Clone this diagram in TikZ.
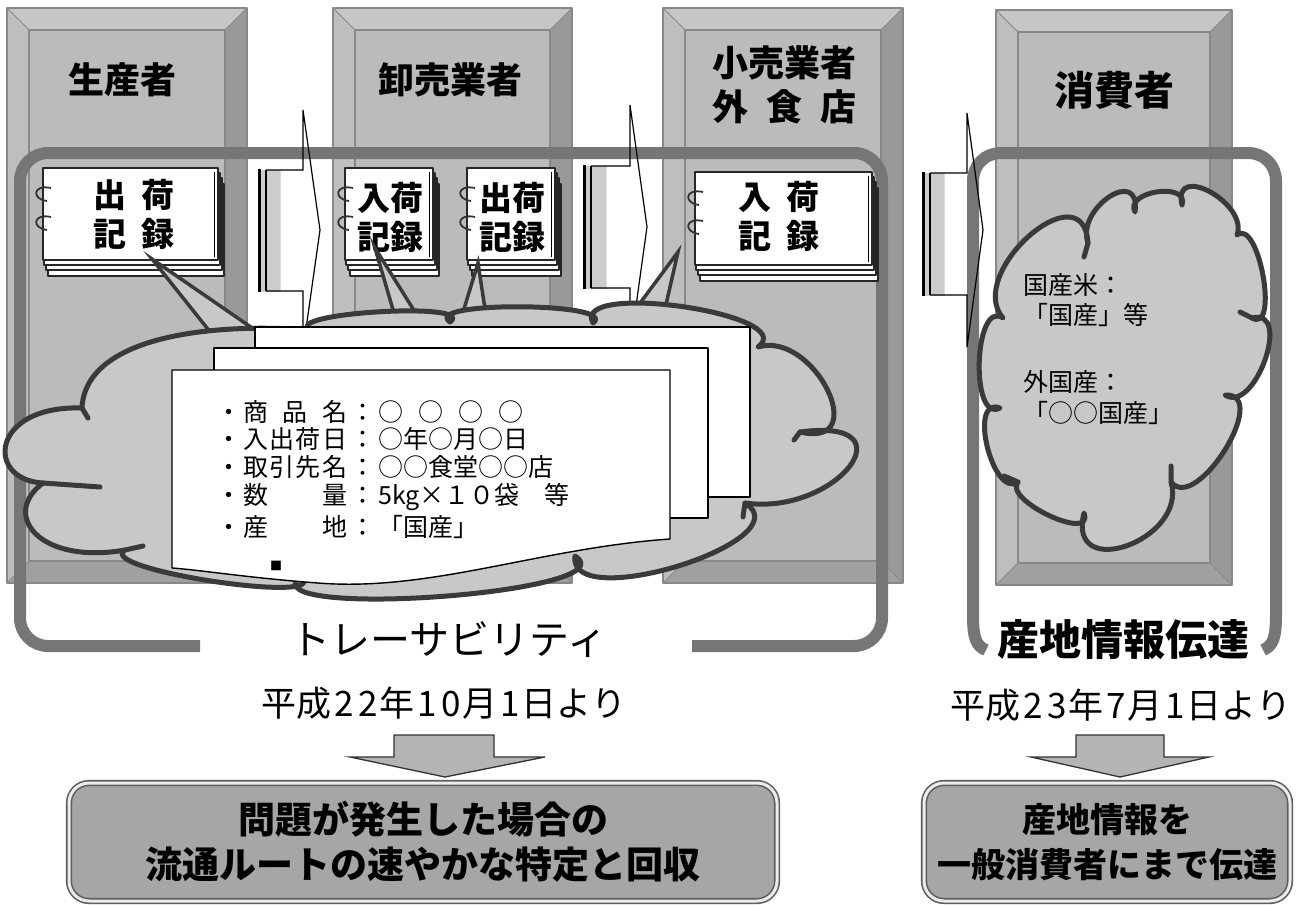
\documentclass[tikz,border=0pt]{standalone}
\usepackage{fontspec}
\setmainfont{Noto Sans CJK JP}
\usetikzlibrary{calc}
\definecolor{bandlight}{HTML}{C6C6C6}
\definecolor{bandleft}{HTML}{BEBEBE}
\definecolor{bandmid}{HTML}{B2B2B2}
\definecolor{banddark}{HTML}{999999}
\definecolor{panelgray}{HTML}{BBBBBB}
\definecolor{edgegray}{HTML}{888888}
\definecolor{rectgray}{HTML}{767676}
\definecolor{cloudfill}{HTML}{C8C8C8}
\definecolor{cloudline}{HTML}{3A3A3A}
\definecolor{boxfill}{HTML}{A6A6A6}
\definecolor{boxedge}{HTML}{5E5E5E}
\definecolor{arrowfill}{HTML}{B4B4B4}
\newcommand\dg[1]{\makebox[24pt]{#1}}
\tikzset{
  bump/.style n args={3}{insert path={.. controls ($0.533*(#1)-0.867*(#2)+1.333*(#3)$) and ($0.533*(#2)-0.867*(#1)+1.333*(#3)$) .. (#2)}},
  rectline/.style={draw=rectgray, line width=12pt, rounded corners=28pt},
  cloudst/.style={fill=cloudfill, draw=cloudline, line width=5pt, line join=round},
  curlst/.style={draw=cloudline, line width=5pt, line cap=round},
  tailst/.style={fill=cloudfill, draw=cloudline, line width=3.5pt, line join=miter},
  sheetst/.style={fill=white, draw=black, line width=1.4pt},
  pagest/.style={fill=white, draw=black!85, line width=1.2pt},
  titlest/.style={font=\fontsize{36}{44}\selectfont\bfseries, inner sep=0pt, align=center},
  booktext/.style={font=\fontsize{33}{39}\selectfont\bfseries, inner sep=0pt, align=center},
  rowtext/.style={font=\fontsize{25}{28}\selectfont, inner sep=0pt, anchor=west},
  cloudtext/.style={font=\fontsize{25}{30}\selectfont, inner sep=0pt, anchor=west},
  bottombox/.style={draw=boxedge, line width=1.6pt, double=white!85!gray, double distance=3pt, fill=boxfill, rounded corners=20pt, inner sep=0pt, align=center},
  downarrow/.style={draw=black!80, line width=1.3pt, fill=arrowfill, line join=miter}
}
\begin{document}
\begin{tikzpicture}[x=1pt,y=-1pt, line join=round]
\useasboundingbox (0,0) rectangle (1296,907);
\fill[white] (0,0) rectangle (1296,907);

% ---------- beveled columns ----------
\foreach \xa/\ya/\xb/\yb in {7/8/247/583, 333/8/572/583, 663/8/903/583, 996/10/1232/585}{
  \fill[bandmid] (\xa,\ya) rectangle (\xb,\yb);
  \fill[bandlight] (\xa,\ya) -- (\xb,\ya) -- ({\xb-22},{\ya+22}) -- ({\xa+22},{\ya+22}) -- cycle;
  \fill[bandleft] (\xa,\ya) -- ({\xa+22},{\ya+22}) -- ({\xa+22},{\yb-22}) -- (\xa,\yb) -- cycle;
  \fill[banddark] (\xb,\ya) -- (\xb,\yb) -- ({\xb-22},{\yb-22}) -- ({\xb-22},{\ya+22}) -- cycle;
  \fill[bandmid!90!black] (\xa,\yb) -- (\xb,\yb) -- ({\xb-22},{\yb-22}) -- ({\xa+22},{\yb-22}) -- cycle;
  \filldraw[fill=panelgray, draw=edgegray, line width=1.6pt] ({\xa+22},{\ya+22}) rectangle ({\xb-22},{\yb-22});
  \draw[edgegray, line width=1pt] (\xa,\ya) -- ({\xa+22},{\ya+22}) (\xb,\ya) -- ({\xb-22},{\ya+22})
        (\xa,\yb) -- ({\xa+22},{\yb-22}) (\xb,\yb) -- ({\xb-22},{\yb-22});
  \draw[edgegray, line width=1.6pt] (\xa,\ya) rectangle (\xb,\yb);
}

% ---------- column titles ----------
\node[titlest] (t1) at (122,80) {生産者};
\node[titlest] (t2) at (450,80) {卸売業者};
\node[titlest] (t3) at (784,85) {小売業者\\外\hspace{18pt}食\hspace{18pt}店};
\node[titlest, font=\fontsize{40}{44}\selectfont\bfseries] (t4) at (1114,90) {消費者};

% ---------- big frames ----------
\draw[rectline] (200,646) -- (20,646) -- (20,153) -- (882,153) -- (882,646) -- (692,646);
\draw[rectline, rounded corners=0pt] (986,650) .. controls (976,646) and (973,638) .. (973,615) -- (973,181)
   .. controls (973,165) and (985,153) .. (1001,153) -- (1248,153) .. controls (1264,153) and (1276,165) .. (1276,181)
   -- (1276,615) .. controls (1276,638) and (1273,646) .. (1263,650);

% ---------- block arrows between columns ----------
\foreach \xo/\yt/\yb/\xh/\ht/\xt/\yc/\hb in {258/170/291/303/110/320/230/350, 583/166/288/630/105/647/227/349, 922/173/295/967/113/983/230/347}{
  \shade[left color=gray!35, middle color=white, right color=gray!40] (\xo,\yt) rectangle (\xh,\yb);
  \draw[black, line width=1.2pt, line join=miter] ({\xo+8},\yt) -- (\xh,\yt) -- (\xh,\ht) -- (\xt,\yc) -- (\xh,\hb) -- (\xh,\yb) -- ({\xo+8},\yb);
  \draw[black, line width=3.5pt] ({\xo+1.5},{\yt-1}) -- ({\xo+1.5},{\yb+1});
  \draw[black, line width=1.2pt] ({\xo+8},\yt) -- ({\xo+8},\yb);
}

% ---------- record books ----------
\foreach \xa/\ya/\xb/\yb in {43/168/218/260, 345/168/433/260, 467/168/555/260, 695/172/872/265}{
  \filldraw[pagest] ({\xa+5},{\ya+16}) rectangle ({\xb+6},{\yb+16});
  \filldraw[pagest] ({\xa+3},{\ya+10}) rectangle ({\xb+4},{\yb+10});
  \filldraw[pagest] ({\xa+1},{\ya+5}) rectangle ({\xb+2},{\yb+5});
  \filldraw[pagest, line width=1.4pt] (\xa,\ya) rectangle (\xb,\yb);
  \draw[black, line width=1pt] ({\xb-4},{\ya+4}) -- ({\xb-4},{\yb-3});
  \foreach \r in {26,55}{
    \draw[black!80, line width=1.8pt] ({\xa+8},{\ya+\r-6}) .. controls ({\xa-10},{\ya+\r-10}) and ({\xa-12},{\ya+\r+5}) .. ({\xa+4},{\ya+\r+7});
  }
}
\node[booktext] (b1) at (134,214) {出\hspace{15pt}荷\\記\hspace{15pt}録};
\node[booktext] (b2) at (390,217) {入荷\\記録};
\node[booktext] (b3) at (512,217) {出荷\\記録};
\node[booktext] (b4) at (779,216) {入\hspace{15pt}荷\\記\hspace{15pt}録};

% ---------- callout tails ----------
\filldraw[tailst] (215,338) -- (152,259) -- (258,332);
\filldraw[tailst] (396,320) -- (375,248) -- (420,320);
\filldraw[tailst] (460,322) -- (478,263) -- (487,322);
\filldraw[tailst] (626,322) -- (678,252) -- (662,322);

% ---------- left cloud ----------
\coordinate (L1) at (43,483);   \coordinate (L2) at (82,408);   \coordinate (L3) at (310,330);
\coordinate (L4) at (450,322);  \coordinate (L5) at (593,323);  \coordinate (L6) at (758,347);
\coordinate (L7) at (800,432);  \coordinate (L8) at (745,503);  \coordinate (L9) at (575,556);
\coordinate (L10) at (300,576); \coordinate (L11) at (125,550);
\coordinate (P3) at (380,312);
\coordinate (P4) at (521,307);  \coordinate (P5) at (684,307);  \coordinate (P6) at (828,390);
\coordinate (P7) at (850,467);  \coordinate (P8) at (680,566);  \coordinate (P9) at (440,597);
\coordinate (P10) at (215,582);
\filldraw[cloudst] (L3) [bump={L3}{L4}{P3}] [bump={L4}{L5}{P4}]
  [bump={L5}{L6}{P5}] [bump={L6}{L7}{P6}] [bump={L7}{L8}{P7}] [bump={L8}{L9}{P8}]
  [bump={L9}{L10}{P9}] [bump={L10}{L11}{P10}]
  .. controls (40,565) and (0,515) .. (L1)
  .. controls (-15,480) and (-10,405) .. (L2)
  .. controls (85,340) and (200,322) .. (L3) -- cycle;
\draw[curlst] (L1) -- (100,487) (L2) -- (88,418) (L11) -- (143,546) (L7) -- ++(-6,8) (L8) -- ++(-2,14);

% ---------- consumer cloud ----------
\coordinate (K1) at (1003,318);  \coordinate (K2) at (1088,243);  \coordinate (K3) at (1135,212);
\coordinate (K4) at (1182,205);  \coordinate (K5) at (1237,235);  \coordinate (K6) at (1252,318);
\coordinate (K7) at (1225,395);  \coordinate (K8) at (1171,482);  \coordinate (K9) at (1084,513);
\coordinate (K10) at (1018,482); \coordinate (K11) at (1000,408);
\coordinate (Q1) at (1030,236);  \coordinate (Q2) at (1110,197);  \coordinate (Q3) at (1158,192);
\coordinate (Q4) at (1211,192);  \coordinate (Q5) at (1264,276);  \coordinate (Q6) at (1266,360);
\coordinate (Q7) at (1226,450);  \coordinate (Q8) at (1128,546);  \coordinate (Q9) at (1050,516);
\coordinate (Q10) at (988,447);  \coordinate (Q11) at (980,362);
\filldraw[cloudst] (K1) [bump={K1}{K2}{Q1}] [bump={K2}{K3}{Q2}] [bump={K3}{K4}{Q3}] [bump={K4}{K5}{Q4}]
  [bump={K5}{K6}{Q5}] [bump={K6}{K7}{Q6}] [bump={K7}{K8}{Q7}] [bump={K8}{K9}{Q8}]
  [bump={K9}{K10}{Q9}] [bump={K10}{K11}{Q10}] [bump={K11}{K1}{Q11}] -- cycle;
\draw[curlst] (K2) -- ++(-4,14) (K8) -- ++(0,-16) (K10) -- ++(-14,-6) (K6) -- ++(-12,-6);
\node[cloudtext] (c1) at (1023,285) {国産米：};
\node[cloudtext] (c2) at (1023,315) {「国産」等};
\node[cloudtext] (c3) at (1023,382) {外国産：};
\node[cloudtext] (c4) at (1023,413) {「○○国産」};

% ---------- record sheets ----------
\filldraw[sheetst] (255,327) rectangle (750,497);
\filldraw[sheetst] (214,348) rectangle (708,518);
\filldraw[sheetst] (172,370) -- (670,370) -- (670,539) .. controls (540,548) and (430,592) .. (318,583)
   .. controls (250,578) and (200,570) .. (172,568) -- cycle;
\node[rowtext] (r1) at (215,412) {\makebox[28pt]{・}\makebox[104pt][l]{商\hfill 品\hfill 名}\makebox[31pt]{：}\makebox[40pt][l]{○}\makebox[40pt][l]{○}\makebox[40pt][l]{○}○};
\node[rowtext] (r2) at (215,439) {\makebox[28pt]{・}\makebox[104pt][l]{入\hfill 出\hfill 荷\hfill 日}\makebox[31pt]{：}○年○月○日};
\node[rowtext] (r3) at (215,467) {\makebox[28pt]{・}\makebox[104pt][l]{取\hfill 引\hfill 先\hfill 名}\makebox[31pt]{：}○○食堂○○店};
\node[rowtext] (r4) at (215,497) {\makebox[28pt]{・}\makebox[104pt][l]{数\hfill 量}\makebox[31pt]{：}5kg×１０袋　等};
\node[rowtext] (r5) at (215,527) {\makebox[28pt]{・}\makebox[104pt][l]{産\hfill 地}\makebox[31pt]{：}「国産」};
\node[font=\fontsize{12}{12}\selectfont, inner sep=0pt] (r6) at (276,566) {■};

% ---------- bottom labels ----------
\node[font=\fontsize{40}{44}\selectfont, inner sep=0pt] (trace) at (449,640) {トレーサビリティ};
\node[font=\fontsize{35}{38}\selectfont, inner sep=0pt] (date1) at (444,703) {平成\dg{2}\dg{2}年\dg{1}\dg{0}月\dg{1}日より};
\node[font=\fontsize{42}{46}\selectfont\bfseries, inner sep=0pt] (orig) at (1123,640) {産地情報伝達};
\node[font=\fontsize{35}{38}\selectfont, inner sep=0pt] (date2) at (1121,705) {平成\dg{2}\dg{3}年\dg{7}月\dg{1}日より};

\filldraw[downarrow] (394,735) -- (494,735) -- (494,757) -- (545,757) -- (445,777) -- (350,757) -- (394,757) -- cycle;
\filldraw[downarrow] (1076,735) -- (1164,735) -- (1164,757) -- (1209,757) -- (1120,777) -- (1031,757) -- (1076,757) -- cycle;

\node[bottombox, minimum width=708pt, minimum height=118pt, font=\fontsize{37}{45}\selectfont\bfseries] (boxL) at (423,842) {問題が発生した場合の\\流通ルートの速やかな特定と回収};
\node[bottombox, minimum width=366pt, minimum height=118pt, font=\fontsize{34}{45}\selectfont\bfseries] (boxR) at (1107,842) {産地情報を\\一般消費者にまで伝達};
\end{tikzpicture}
\end{document}
